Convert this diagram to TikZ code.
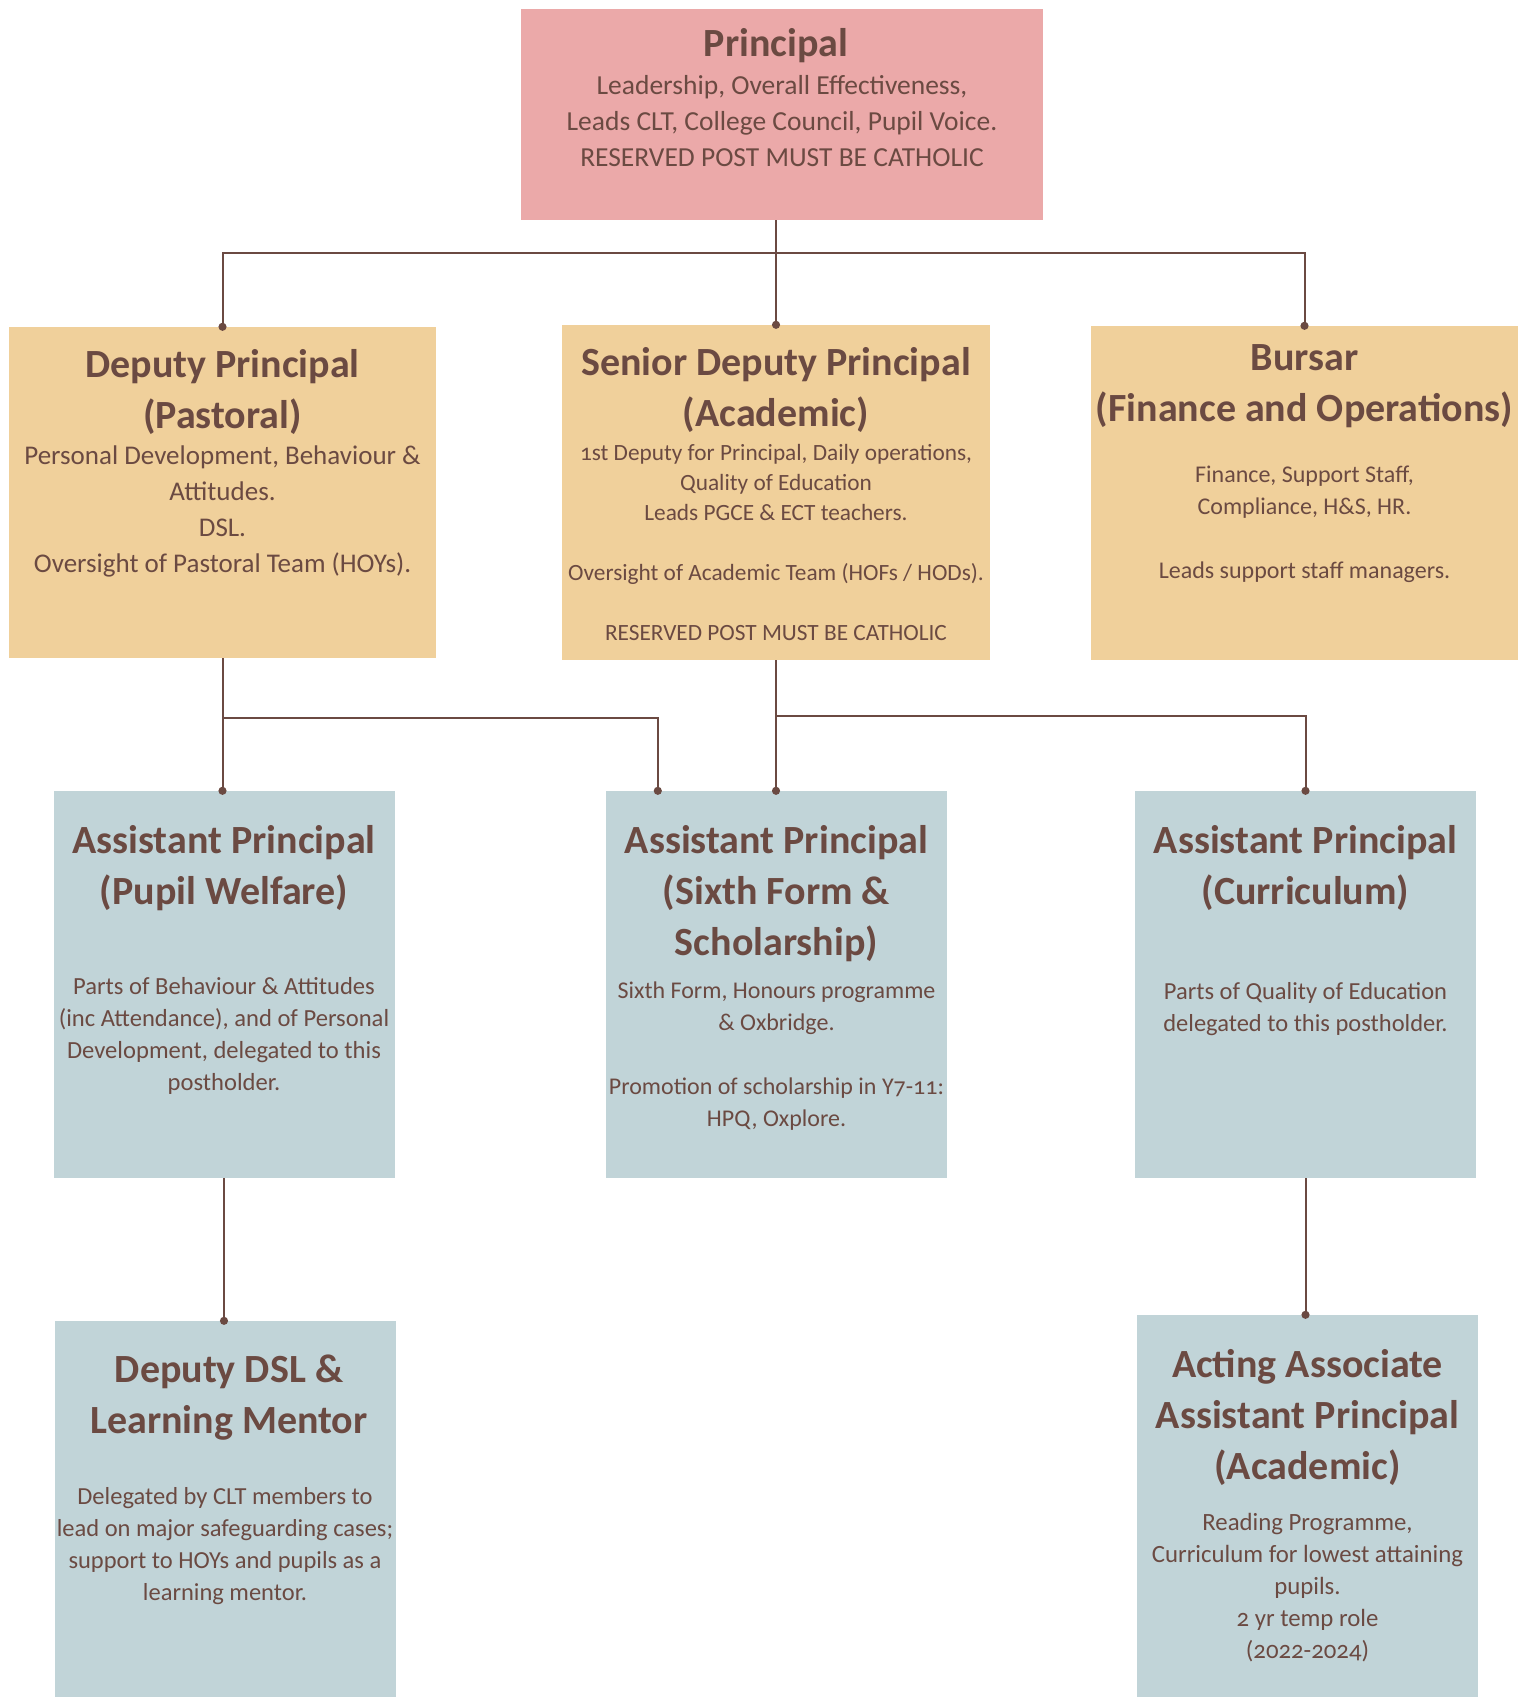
\documentclass[tikz,border=0pt]{standalone}
\usepackage{fontspec}
\setmainfont{Carlito}[Numbers=OldStyle]
\usetikzlibrary{positioning,arrows.meta}

\definecolor{inkbrown}{HTML}{6B4A42}
\definecolor{principalpink}{HTML}{EBA9A9}
\definecolor{deputygold}{HTML}{F0D09B}
\definecolor{assistblue}{HTML}{C1D4D8}

\tikzset{
  postbox/.style={inner sep=0pt, draw=none, minimum width=#1},
  posttitle/.style={anchor=north, inner sep=0pt, align=center, text=inkbrown,
    font=\bfseries\fontsize{40}{51}\selectfont},
  postbody/.style 2 args={anchor=north, inner sep=0pt, align=center, text=inkbrown,
    font=\fontsize{#1}{#2}\selectfont},
  wire/.style={draw=inkbrown, line width=2pt, -{Circle[length=8pt]}, shorten >=-4pt},
}

\begin{document}
\begin{tikzpicture}[x=1pt,y=-1pt]
    \useasboundingbox[fill=white] (0,0) rectangle (1520,1697);

    % top
    \node[postbox=522, minimum height=211, fill=principalpink] (principal) at (782,114.5) {};
    \node[posttitle, below=19pt of principal.north, xshift=-6pt] (principalTitle) {Principal};
    \node[postbody={27.5}{36}, below=66pt of principal.north] (principalText)
        {Leadership, Overall Effectiveness,\\ Leads CLT, College Council, Pupil Voice.\\ RESERVED POST MUST BE CATHOLIC};

    % deputies
    \node[postbox=427, minimum height=331, fill=deputygold] (dpp) at (222.5,492.5) {};
    \node[posttitle, below=22pt of dpp.north] (dppTitle) {Deputy Principal\\(Pastoral)};
    \node[postbody={27}{36}, below=119pt of dpp.north] (dppText)
        {Personal Development, Behaviour \&\\ Attitudes.\\ DSL.\\ Oversight of Pastoral Team (HOYs).};

    \node[postbox=428, minimum height=335, fill=deputygold] (sdp) at (776,492.5) {};
    \node[posttitle, below=22pt of sdp.north] (sdpTitle) {Senior Deputy Principal\\(Academic)};
    \node[postbody={23.3}{30}, below=119pt of sdp.north] (sdpText)
        {1st Deputy for Principal, Daily operations,\\ Quality of Education\\ Leads PGCE \& ECT teachers.\\[30pt]
         Oversight of Academic Team (HOFs / HODs).\\[30pt] RESERVED POST MUST BE CATHOLIC};

    \node[postbox=427, minimum height=334, fill=deputygold] (bursar) at (1304.5,493) {};
    \node[posttitle, below=19pt of bursar.north] (bursarTitle) {Bursar\\(Finance and Operations)};
    \node[postbody={24}{32}, below=140pt of bursar.north] (bursarText)
        {Finance, Support Staff,\\ Compliance, H\&S, HR.\\[32pt] Leads support staff managers.};

    % assistants
    \node[postbox=341, minimum height=387, fill=assistblue] (appw) at (224,984.5) {};
    \node[posttitle, below=34pt of appw.north] (appwTitle) {Assistant Principal\\(Pupil Welfare)};
    \node[postbody={24.6}{32}, below=186pt of appw.north] (appwText)
        {Parts of Behaviour \& Attitudes\\ (inc Attendance), and of Personal\\ Development, delegated to this\\ postholder.};

    \node[postbox=341, minimum height=387, fill=assistblue] (apsf) at (776.5,984.5) {};
    \node[posttitle, below=34pt of apsf.north] (apsfTitle) {Assistant Principal\\(Sixth Form \&\\Scholarship)};
    \node[postbody={24}{32}, below=191pt of apsf.north] (apsfText)
        {Sixth Form, Honours programme\\ \& Oxbridge.\\[32pt] Promotion of scholarship in Y7-11:\\ HPQ, Oxplore.};

    \node[postbox=341, minimum height=387, fill=assistblue] (apcur) at (1305.5,984.5) {};
    \node[posttitle, below=34pt of apcur.north] (apcurTitle) {Assistant Principal\\(Curriculum)};
    \node[postbody={24.5}{32}, below=191pt of apcur.north] (apcurText)
        {Parts of Quality of Education\\ delegated to this postholder.};

    % bottom row
    \node[postbox=341, minimum height=376, fill=assistblue] (ddsl) at (225,1509) {};
    \node[posttitle, below=34pt of ddsl.north, xshift=4pt] (ddslTitle) {Deputy DSL \&\\Learning Mentor};
    \node[postbody={24.5}{32}, below=166pt of ddsl.north] (ddslText)
        {Delegated by CLT members to\\ lead on major safeguarding cases;\\ support to HOYs and pupils as a\\ learning mentor.};

    \node[postbox=341, minimum height=382, fill=assistblue] (acting) at (1307.5,1506) {};
    \node[posttitle, below=34pt of acting.north] (actingTitle) {Acting Associate\\Assistant Principal\\(Academic)};
    \node[postbody={24.8}{32}, below=198pt of acting.north] (actingText)
        {Reading Programme,\\ Curriculum for lowest attaining\\ pupils.\\ 2 yr temp role\\ (2022-2024)};

    % connectors
    \coordinate (busTop) at (776,253);
    \coordinate (forkL) at (222.5,718);
    \coordinate (forkR) at (776,716);
    \draw[wire] (principal.south -| sdp.north) -- (sdp.north);
    \draw[wire] (busTop) -| (dpp.north);
    \draw[wire] (busTop) -| (bursar.north);
    \draw[wire] (dpp.south) -- (dpp.south |- appw.north);
    \draw[wire] (forkL) -| ([xshift=52pt]apsf.north west);
    \draw[wire] (sdp.south) -- (sdp.south |- apsf.north);
    \draw[wire] (forkR) -| (apcur.north);
    \draw[wire] (appw.south) -- (appw.south |- ddsl.north);
    \draw[wire] (apcur.south) -- (apcur.south |- acting.north);
\end{tikzpicture}
\end{document}
